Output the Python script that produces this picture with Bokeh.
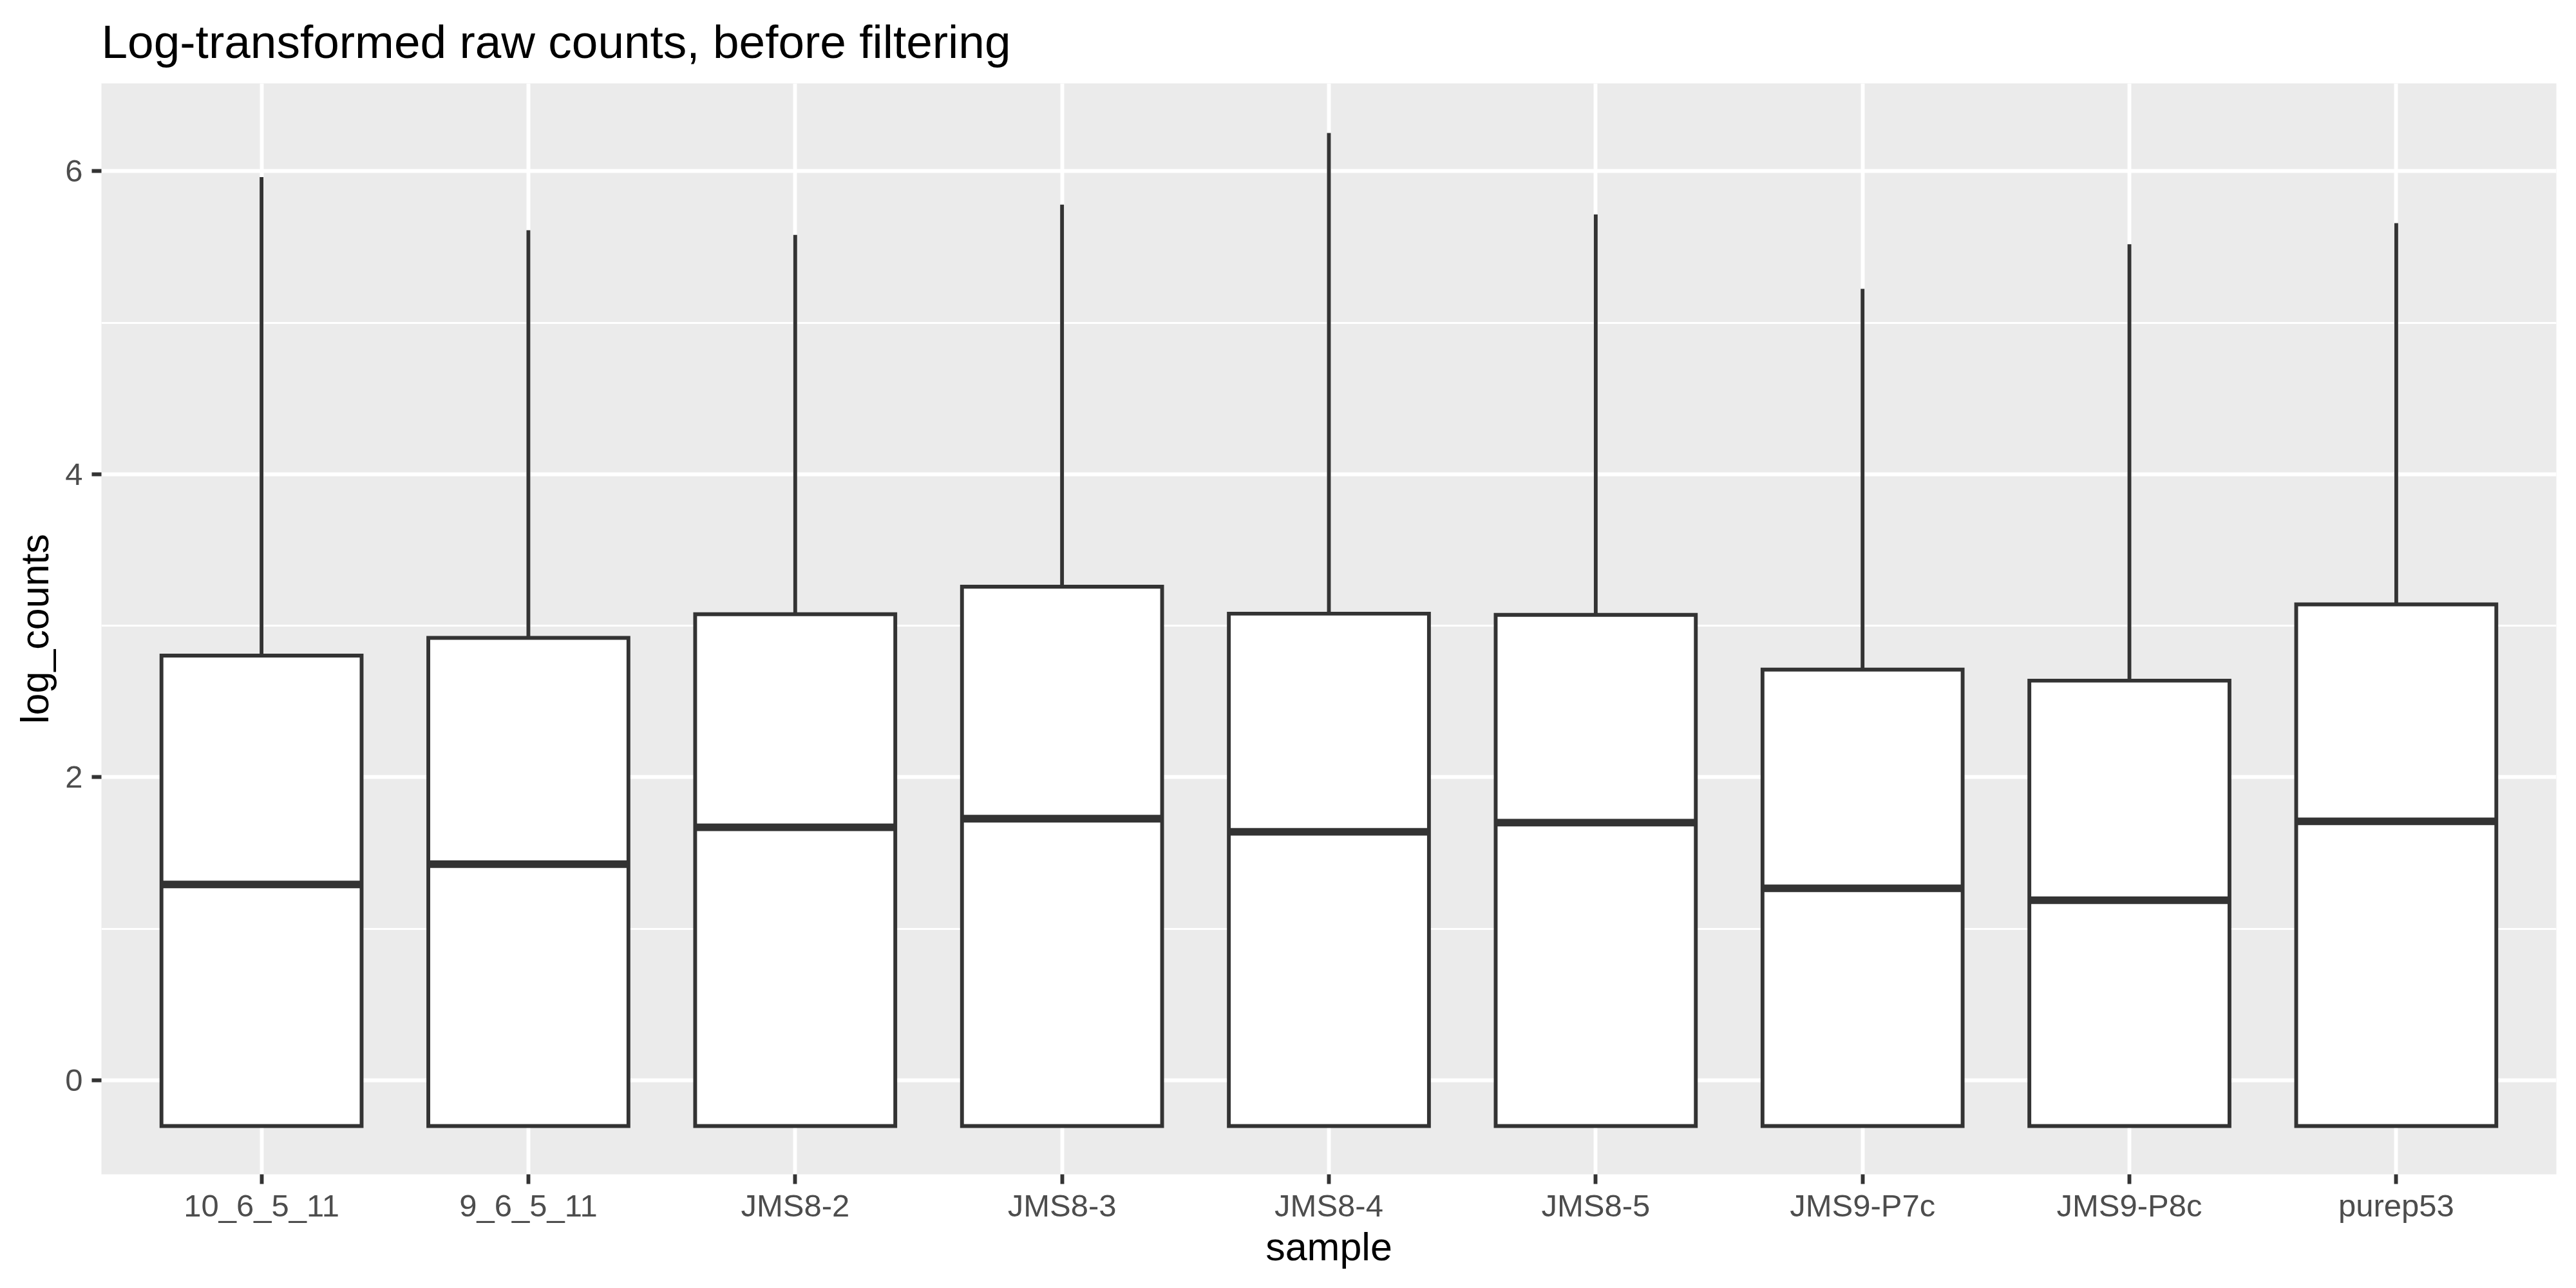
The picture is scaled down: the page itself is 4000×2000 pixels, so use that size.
from bokeh.plotting import figure
from bokeh.models import Range1d, FixedTicker, ColumnDataSource
from bokeh.embed import file_html
from bokeh.resources import INLINE

# ---- data ----
samples = ["10_6_5_11", "9_6_5_11", "JMS8-2", "JMS8-3", "JMS8-4",
           "JMS8-5", "JMS9-P7c", "JMS9-P8c", "purep53"]
lower = [-0.301, -0.301, -0.301, -0.301, -0.301, -0.301, -0.301, -0.301, -0.301]
q1 = [-0.301, -0.301, -0.301, -0.301, -0.301, -0.301, -0.301, -0.301, -0.301]
median = [1.293, 1.427, 1.670, 1.727, 1.640, 1.701, 1.267, 1.189, 1.709]
q3 = [2.803, 2.920, 3.076, 3.258, 3.080, 3.072, 2.711, 2.638, 3.141]
upper = [5.961, 5.610, 5.579, 5.779, 6.252, 5.714, 5.223, 5.518, 5.657]
y_ticks = [0, 2, 4, 6]
y_minor = [1, 3, 5]
title_text = "Log-transformed raw counts, before filtering"

box_width = 0.75
pos = list(range(1, len(samples) + 1))
src = ColumnDataSource(dict(
    x=pos, lower=lower, q1=q1, median=median, q3=q3, upper=upper,
    x0=[p_ - box_width / 2 for p_ in pos], x1=[p_ + box_width / 2 for p_ in pos],
))

FONT = "Liberation Sans"
DARK = "#333333"
LW = 5.9

p = figure(width=3992, height=1992, output_backend="svg", toolbar_location=None,
           x_range=Range1d(0.4, 9.6), y_range=Range1d(-0.62, 6.579),
           min_border_left=157, min_border_right=23, min_border_top=129, min_border_bottom=169,
           title=title_text)

p.background_fill_color = "#EBEBEB"
p.border_fill_color = "white"
p.outline_line_color = None

# title
p.title.text_font = FONT
p.title.text_font_size = "73px"
p.title.text_font_style = "normal"
p.title.text_color = "black"
p.title.align = "left"
p.title.vertical_align = "top"
p.title.standoff = 45

# grids
p.xgrid.ticker = FixedTicker(ticks=pos)
p.xgrid.grid_line_color = "white"
p.xgrid.grid_line_width = LW
p.ygrid.ticker = FixedTicker(ticks=y_ticks, minor_ticks=y_minor)
p.ygrid.grid_line_color = "white"
p.ygrid.grid_line_width = LW
p.ygrid.minor_grid_line_color = "white"
p.ygrid.minor_grid_line_width = LW / 2

# axes
for ax in (p.xaxis[0], p.yaxis[0]):
    ax.axis_line_color = None
    ax.major_tick_line_color = DARK
    ax.major_tick_line_width = LW
    ax.major_tick_out = 15
    ax.major_tick_in = 0
    ax.minor_tick_line_color = None
    ax.major_label_text_font = FONT
    ax.major_label_text_font_size = "49px"
    ax.major_label_text_color = "#4D4D4D"
    ax.axis_label_text_font = FONT
    ax.axis_label_text_font_size = "61px"
    ax.axis_label_text_font_style = "normal"
    ax.axis_label_text_color = "black"

p.xaxis.ticker = FixedTicker(ticks=pos)
p.xaxis.major_label_overrides = {i: s for i, s in zip(pos, samples)}
p.xaxis.axis_label = "sample"
p.xaxis.major_label_standoff = 6
p.xaxis.axis_label_standoff = 0

p.yaxis.ticker = FixedTicker(ticks=y_ticks, minor_ticks=y_minor)
p.yaxis.axis_label = "log_counts"
p.yaxis.major_label_standoff = 14
p.yaxis.axis_label_standoff = 10

# whiskers
p.segment(x0="x", y0="q3", x1="x", y1="upper", source=src, line_color=DARK, line_width=LW)
p.segment(x0="x", y0="lower", x1="x", y1="q1", source=src, line_color=DARK, line_width=LW)
# boxes
p.vbar(x="x", width=box_width, bottom="q1", top="q3", source=src,
       fill_color="white", line_color=DARK, line_width=LW, line_join="miter")
# medians
p.segment(x0="x0", y0="median", x1="x1", y1="median", source=src,
          line_color=DARK, line_width=2 * LW, line_cap="butt")

open("out.html", "w").write(file_html(p, INLINE))
